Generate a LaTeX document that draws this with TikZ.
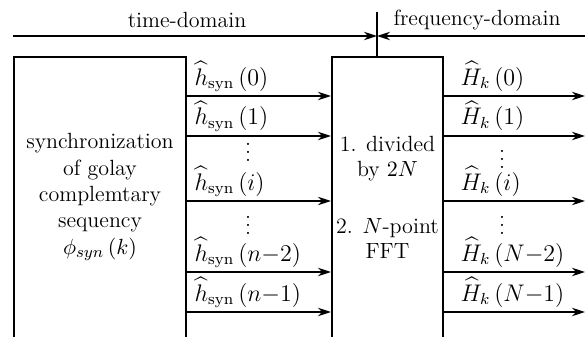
\documentclass[tikz,border=0pt]{standalone}
\usepackage{amsmath}
\usetikzlibrary{arrows.meta}
\begin{document}
\begin{tikzpicture}[x=0.5pt,y=-0.5pt,
  line width=0.6pt,
  arr/.style={-{Stealth[length=6.5pt,width=4.2pt,inset=2pt]}},
  txt/.style={font=\fontsize{11}{13.5}\selectfont},
  lbl/.style={font=\fontsize{12}{14}\selectfont,anchor=base west,inner sep=0pt}]
\useasboundingbox (0,0) rectangle (585,337);

% open-bottom blocks (sides run off the lower edge)
\coordinate (syncNW) at (14,57);  \coordinate (syncSW) at (14,337);
\coordinate (syncNE) at (186,57); \coordinate (syncSE) at (186,337);
\coordinate (fftNW) at (332,57);  \coordinate (fftSW) at (332,337);
\coordinate (fftNE) at (443,57);  \coordinate (fftSE) at (443,337);
\draw (syncSW) -- (syncNW) -- (syncNE) -- (syncSE);
\draw (fftSW) -- (fftNW) -- (fftNE) -- (fftSE);

\node[txt,align=center] (sync) at (100,197)
  {synchronization\\[-0.3pt] of golay\\[-0.3pt] complemtary\\[-0.3pt] sequency\\[-0.3pt] $\phi_{syn}\,(k)$};
\node[txt,align=center] (fft) at (387.5,197)
  {1. divided\\[-1pt] by $2N$\\[15pt] 2. $N$-point\\[-1pt] FFT};

% domain divider
\coordinate (tl) at (13,36);
\coordinate (tr) at (585,36);
\coordinate (mid) at (377,36);
\coordinate (divtop) at (377,12);
\coordinate (divbot) at (377,57);
\draw (divtop) -- (divbot);
\draw[arr] (tl) -- (mid);
\draw[arr] (tr) -- (mid);
\node[txt] (td) at (187,20) {time-domain};
\node[txt] (fd) at (477,20) {frequency-domain};

% channel arrows
\foreach \yy/\ll/\rr [count=\i] in {
    96/{(0)}/{(0)},
    136/{(1)}/{(1)},
    201/{(i)}/{(i)},
    272/{(n{-}2)}/{(N{-}2)},
    312/{(n{-}1)}/{(N{-}1)}} {
  \coordinate (a\i) at (186,\yy);
  \coordinate (b\i) at (331,\yy);
  \coordinate (c\i) at (443,\yy);
  \coordinate (d\i) at (585,\yy);
  \draw[arr] (a\i) -- (b\i);
  \draw[arr] (c\i) -- (d\i);
  \node[lbl] (hl\i) at (194,\yy-11) {$\widehat{h}_{\mathrm{syn}}\,\ll$};
  \node[lbl] (Hr\i) at (460,\yy-11) {$\widehat{H}_{k}\,\rr$};
}

% ellipsis marks
\node[txt,inner sep=0pt] (dl1) at (248,146) {$\vdots$};
\node[txt,inner sep=0pt] (dl2) at (248,219) {$\vdots$};
\node[txt,inner sep=0pt] (dr1) at (502,153) {$\vdots$};
\node[txt,inner sep=0pt] (dr2) at (502,219) {$\vdots$};
\end{tikzpicture}
\end{document}
